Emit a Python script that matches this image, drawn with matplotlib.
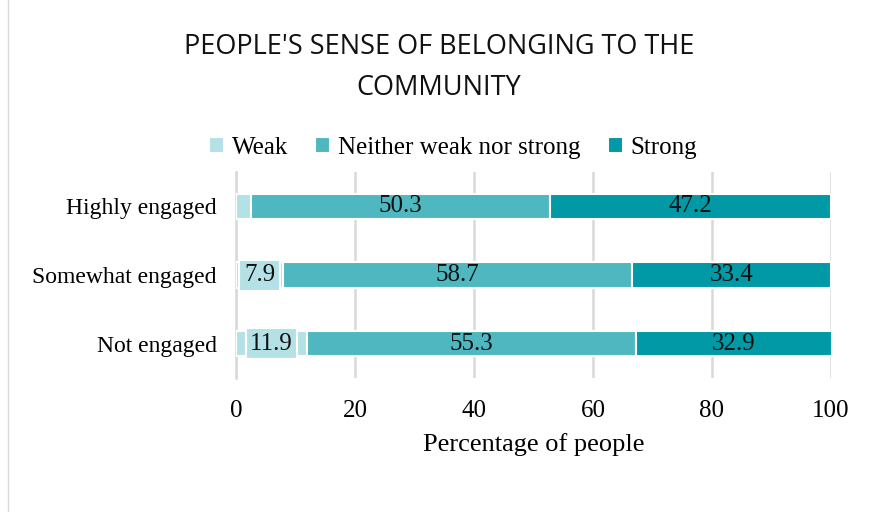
import matplotlib
matplotlib.use("Agg")
import matplotlib.pyplot as plt
from matplotlib.patches import Rectangle

# data
categories = ["Not engaged", "Somewhat engaged", "Highly engaged"]
weak = [11.9, 7.9, 2.5]
neither = [55.3, 58.7, 50.3]
strong = [32.9, 33.4, 47.2]
series_names = ["Weak", "Neither weak nor strong", "Strong"]
colors = ["#b4e1e6", "#4fb7bf", "#0099a5"]
show_label = [[True, True, False], [True, True, True], [True, True, True]]
x_ticks = [0, 20, 40, 60, 80, 100]

serif = "Liberation Serif"

fig = plt.figure(figsize=(8.78, 5.12), dpi=100)
ax = fig.add_axes([236 / 878, 1 - 378 / 512, (831 - 236) / 878, (378 - 172) / 512])

ypos = list(range(len(categories)))
left = [0.0] * len(categories)
for k, (vals, name, col, lab) in enumerate(zip([weak, neither, strong], series_names, colors, show_label)):
    bars = ax.barh(ypos, vals, left=left, height=0.37, color=col,
                   edgecolor="white", linewidth=1.5, label=name, zorder=3)
    for i, v in enumerate(vals):
        if not lab[i]:
            continue
        # weak labels sit in a white-edged box like the original
        box = dict(boxstyle="square,pad=0.18", fc=col, ec="white", lw=1.5) if k == 0 else None
        ax.text(left[i] + v / 2, ypos[i], f"{v:.1f}", ha="center", va="center",
                fontsize=18, family=serif, color="#111111", zorder=4, bbox=box)
    left = [l + v for l, v in zip(left, vals)]

ax.set_xlim(0, 100)
ax.set_ylim(-0.5, 2.5)
ax.set_xticks(x_ticks)
ax.set_xticklabels([str(t) for t in x_ticks], family=serif, fontsize=18)
ax.set_yticks(ypos)
ax.set_yticklabels(categories, family=serif, fontsize=17)
ax.tick_params(length=0)
ax.tick_params(axis="x", pad=16)
ax.tick_params(axis="y", pad=14)
ax.grid(axis="x", color="#d9d9d9", lw=1.8, zorder=0)
for s in ["top", "right", "bottom"]:
    ax.spines[s].set_visible(False)
ax.spines["left"].set_color("#d9d9d9")
ax.spines["left"].set_linewidth(1.8)
ax.set_xlabel("Percentage of people", family=serif, fontsize=19, labelpad=8)

fig.text(0.5, 1 - 47 / 512, "PEOPLE'S SENSE OF BELONGING TO THE", ha="center", va="center",
         fontsize=19.5, family="Open Sans", color="#111111")
fig.text(0.5, 1 - 88 / 512, "COMMUNITY", ha="center", va="center",
         fontsize=19.5, family="Open Sans", color="#111111")

handles, labels = ax.get_legend_handles_labels()
fig.legend(handles, labels, loc="center", bbox_to_anchor=(453 / 878, 1 - 148 / 512), ncol=3,
           frameon=False, prop={"family": serif, "size": 18}, handlelength=0.6,
           handleheight=0.6, handletextpad=0.3, columnspacing=1.1)

fig.patches.append(Rectangle((8 / 878, -0.01), 1, 1.02, transform=fig.transFigure,
                             fill=False, ec="#d9d9d9", lw=1))

fig.savefig("out.png", dpi=100)
